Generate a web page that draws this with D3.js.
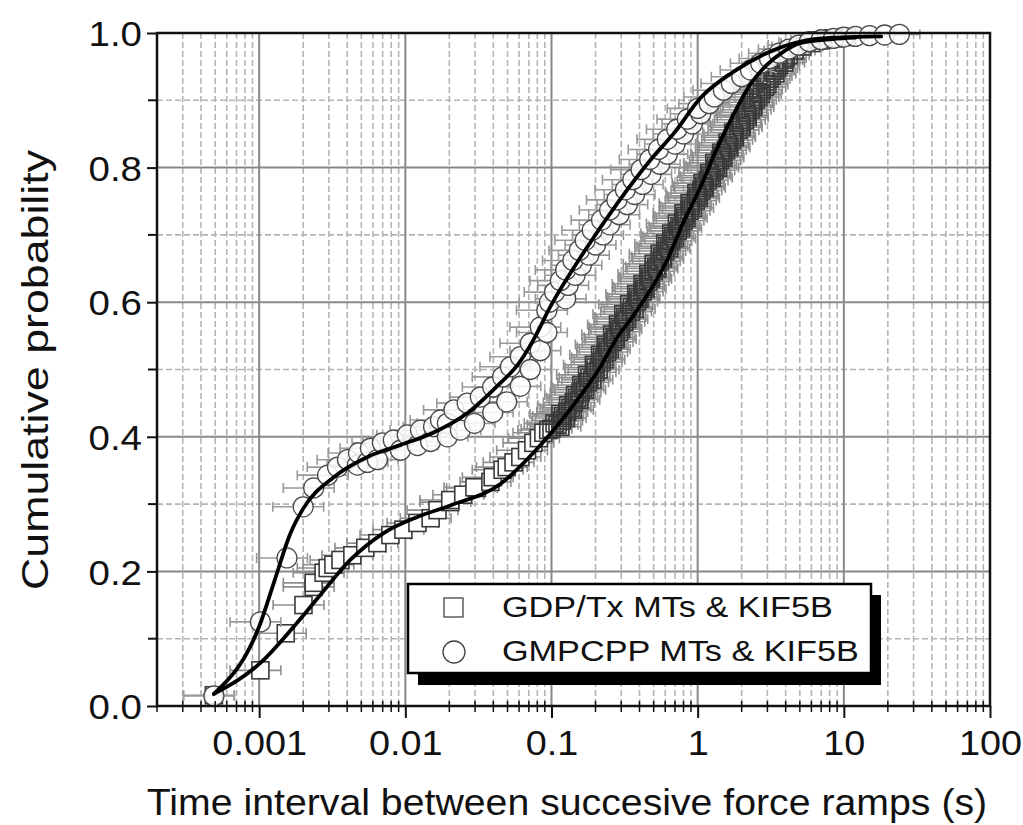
<!DOCTYPE html>
<html>
<head>
<meta charset="utf-8">
<script src="https://cdn.jsdelivr.net/npm/d3@7"></script>
<style>
  html, body { margin: 0; padding: 0; background: #fff; }
  svg { display: block; }
  text { font-family: "Liberation Sans", Arial, sans-serif; fill: #111; }
</style>
</head>
<body>
<svg id="chart" width="1023" height="825"></svg>
<script>
// Cumulative distributions of the time between successive force ramps.
// Each point: [time interval (s), cumulative probability]
const gdpPoints = [
  [0.00049,0.016],[0.00102,0.053],[0.00152,0.108],[0.00201,0.15],[0.00236,0.177],
  [0.00236,0.183],[0.00276,0.198],[0.00294,0.205],[0.00322,0.21],[0.0036,0.217],
  [0.00434,0.224],[0.00532,0.235],[0.00644,0.242],[0.0079,0.254],[0.0097,0.262],
  [0.0121,0.272],[0.0149,0.279],[0.0166,0.291],[0.0203,0.303],[0.0203,0.306],
  [0.0249,0.314],[0.0297,0.325],[0.0309,0.324],[0.0382,0.333],[0.0396,0.34],
  [0.0463,0.351],[0.0494,0.355],[0.055,0.362],[0.0612,0.37],[0.068,0.38],[0.0752,0.391],
  [0.082,0.398],[0.088,0.406],
  [0.095,0.41],[0.115,0.415],[0.105,0.42],[0.125,0.428],[0.115,0.434],[0.14,0.44],
  [0.13,0.447],[0.155,0.455],[0.145,0.462],[0.17,0.47],[0.16,0.477],[0.19,0.485],
  [0.175,0.492],[0.21,0.50],[0.195,0.507],[0.23,0.515],[0.215,0.522],[0.25,0.53],
  [0.235,0.537],[0.275,0.545],[0.26,0.552],[0.3,0.56],[0.285,0.567],[0.33,0.575],
  [0.31,0.582],[0.37,0.59],[0.34,0.597],[0.4,0.605],[0.38,0.612],[0.44,0.62],
  [0.42,0.627],[0.48,0.635],[0.46,0.642],[0.53,0.65],[0.5,0.657],[0.58,0.665],
  [0.55,0.672],[0.64,0.68],[0.6,0.687],[0.7,0.695],[0.66,0.702],[0.77,0.71],
  [0.72,0.717],[0.84,0.725],[0.8,0.732],[0.93,0.74],[0.88,0.747],[1.02,0.755],
  [0.98,0.762],[1.12,0.77],[1.08,0.777],[1.25,0.785],[1.2,0.792],[1.38,0.80],
  [1.3,0.807],[1.5,0.815],[1.45,0.822],[1.65,0.83],[1.6,0.837],[1.8,0.845],
  [1.75,0.852],[2.0,0.86],[1.95,0.867],[2.2,0.875],[2.15,0.882],[2.4,0.89],
  [2.35,0.897],[2.6,0.905],[2.6,0.912],[2.9,0.92],[2.9,0.928],[3.2,0.936],
  [3.3,0.944],[3.6,0.952],[3.8,0.96],[4.2,0.967],[4.6,0.974],[5.2,0.98],
  [6,0.985],[7,0.989],[8.5,0.992],[10.5,0.994],
  [0.1,0.412],[0.11,0.418],[0.118,0.424],[0.12,0.431],[0.128,0.437],[0.135,0.443],
  [0.142,0.451],[0.15,0.458],[0.158,0.466],[0.165,0.473],[0.178,0.481],[0.182,0.488],
  [0.2,0.496],[0.2,0.503],[0.22,0.511],[0.222,0.518],[0.24,0.526],[0.242,0.533],
  [0.262,0.541],[0.27,0.548],[0.29,0.556],[0.292,0.563],[0.315,0.571],[0.32,0.578],
  [0.35,0.586],[0.355,0.593],[0.385,0.601],[0.39,0.608],[0.42,0.616],[0.43,0.623],
  [0.46,0.631],[0.47,0.638],[0.5,0.646],[0.52,0.653],[0.55,0.661],[0.57,0.668],
  [0.6,0.676],[0.62,0.683],[0.66,0.691],[0.68,0.698],[0.73,0.706],[0.75,0.713],
  [0.8,0.721],[0.82,0.728],[0.88,0.736],[0.9,0.743],[0.97,0.751],[1.0,0.758],
  [1.06,0.766],[1.1,0.773],[1.17,0.781],[1.22,0.788],[1.3,0.796],[1.34,0.803],
  [1.42,0.811],[1.48,0.818],[1.56,0.826],[1.62,0.833],[1.72,0.841],[1.78,0.848],
  [1.9,0.856],[1.98,0.863],[2.1,0.871],[2.18,0.878],[2.3,0.886],[2.4,0.893],
  [2.5,0.901],[2.7,0.909],[2.75,0.916],[3.0,0.924],[3.1,0.932],[3.4,0.94],
  [3.5,0.948],[3.9,0.956],[4.0,0.963]
];

const gmpPoints = [
  [0.00049,0.015],[0.00102,0.125],[0.00155,0.22],[0.0020,0.296],[0.00236,0.324],
  [0.00294,0.343],[0.00344,0.355],[0.00402,0.366],[0.0047,0.358],[0.00478,0.376],
  [0.00551,0.362],[0.00577,0.383],[0.00644,0.366],[0.00697,0.391],[0.00828,0.395],
  [0.00926,0.38],[0.0103,0.403],[0.0121,0.387],[0.0127,0.41],[0.0149,0.393],
  [0.0156,0.415],[0.0174,0.425],[0.0194,0.42],[0.0194,0.4],[0.0215,0.44],
  [0.0238,0.41],[0.0265,0.45],[0.0297,0.42],[0.0326,0.459],
  [0.0396,0.474],[0.0396,0.436],[0.0463,0.489],[0.0494,0.452],[0.0523,0.504],
  [0.0612,0.519],[0.0612,0.475],[0.0716,0.539],[0.0716,0.5],[0.0838,0.563],
  [0.0838,0.528],[0.093,0.588],[0.093,0.555],
  [0.097,0.60],[0.125,0.605],[0.105,0.615],[0.13,0.625],[0.115,0.632],[0.145,0.64],
  [0.125,0.648],[0.16,0.655],[0.14,0.662],[0.18,0.67],[0.155,0.677],[0.2,0.685],
  [0.17,0.692],[0.225,0.70],[0.19,0.707],[0.25,0.715],[0.22,0.722],[0.29,0.73],
  [0.25,0.737],[0.33,0.745],[0.28,0.752],[0.37,0.76],[0.32,0.767],[0.42,0.775],
  [0.36,0.782],[0.48,0.79],[0.41,0.797],[0.55,0.805],[0.47,0.812],[0.62,0.82],
  [0.54,0.827],[0.7,0.835],[0.62,0.842],[0.8,0.85],[0.72,0.857],[0.92,0.865],
  [0.85,0.872],[1.05,0.88],[1.0,0.888],[1.2,0.895],[1.3,0.905],[1.5,0.915],
  [1.7,0.925],[2.0,0.935],[2.3,0.945],[2.7,0.955],[3.1,0.962],[3.6,0.97],
  [4.2,0.976],[4.9,0.982],[5.8,0.987],[7,0.99],[8.5,0.992],[10,0.994],
  [12,0.995],[15,0.996],[19,0.997],[24,0.998]
];

// Fitted curves: [time interval (s), cumulative probability]
const gdpFit = [
  [0.00049,0.018],[0.00102,0.064],[0.00171,0.117],[0.00251,0.16],[0.0042,0.217],
  [0.0071,0.257],[0.0121,0.281],[0.0203,0.298],[0.0447,0.33],[0.075,0.376],
  [0.128,0.435],[0.216,0.504],[0.282,0.548],[0.363,0.58],[0.62,0.663],
  [0.80,0.719],[1.04,0.77],[1.36,0.829],[1.75,0.878],[2.28,0.923],[2.95,0.952],
  [3.85,0.972],[5.0,0.985],[8.4,0.991],[12,0.993]
];

const gmpFit = [
  [0.00049,0.018],[0.00102,0.123],[0.00126,0.183],[0.00164,0.257],[0.00201,0.294],
  [0.00324,0.34],[0.0055,0.37],[0.0093,0.388],[0.0155,0.406],[0.0265,0.435],
  [0.0447,0.48],[0.0583,0.506],[0.0752,0.544],[0.098,0.593],[0.165,0.673],
  [0.282,0.747],[0.474,0.811],[0.70,0.853],[1.04,0.903],[1.75,0.942],
  [2.95,0.970],[4.98,0.987],[8.4,0.993],[18,0.995]
];

// Relative half-width of the horizontal error bars
const gdpErrFrac = 0.38;
const gmpErrFrac = 0.38;

const xTickValues = [0.001, 0.01, 0.1, 1, 10, 100];
const xTickLabels = ["0.001", "0.01", "0.1", "1", "10", "100"];
const yTickValues = [0, 0.2, 0.4, 0.6, 0.8, 1.0];
const yTickLabels = ["0.0", "0.2", "0.4", "0.6", "0.8", "1.0"];
const legendLabels = ["GDP/Tx MTs & KIF5B", "GMPCPP MTs & KIF5B"];
const xTitle = "Time interval between succesive force ramps (s)";
const yTitle = "Cumulative probability";

const svg = d3.select("#chart");
const L = 157, R = 990, T = 33, B = 706;

const x = d3.scaleLog().domain([0.0002, 100]).range([L, R]);
const y = d3.scaleLinear().domain([0, 1]).range([B, T]);

// widen glyphs horizontally by a given factor
function widen(sel, k) {
  sel.each(function () {
    const w = this.getComputedTextLength();
    d3.select(this).attr("textLength", w * k).attr("lengthAdjust", "spacingAndGlyphs");
  });
}

// minor positions on the log axis
const xMinor = [];
[0.0001, 0.001, 0.01, 0.1, 1, 10].forEach(d => {
  for (let k = 2; k <= 9; k++) {
    const v = d * k;
    if (v >= 0.0002 && v <= 100) xMinor.push(v);
  }
});
const yMinor = [0.1, 0.3, 0.5, 0.7, 0.9];

// ---- grid ----
const grid = svg.append("g");
grid.selectAll(".gxm").data(xMinor).join("line")
  .attr("x1", d => x(d)).attr("x2", d => x(d)).attr("y1", T).attr("y2", B)
  .attr("stroke", "#b4b4b4").attr("stroke-width", 1.6).attr("stroke-dasharray", "6,3");
grid.selectAll(".gym").data(yMinor).join("line")
  .attr("x1", L).attr("x2", R).attr("y1", d => y(d)).attr("y2", d => y(d))
  .attr("stroke", "#b4b4b4").attr("stroke-width", 1.6).attr("stroke-dasharray", "6,3");
grid.selectAll(".gxM").data(xTickValues.slice(0, 5)).join("line")
  .attr("x1", d => x(d)).attr("x2", d => x(d)).attr("y1", T).attr("y2", B)
  .attr("stroke", "#888").attr("stroke-width", 2);
grid.selectAll(".gyM").data(yTickValues.slice(1, 5)).join("line")
  .attr("x1", L).attr("x2", R).attr("y1", d => y(d)).attr("y2", d => y(d))
  .attr("stroke", "#888").attr("stroke-width", 2);

// ---- data ----
function drawErrorBars(g, pts, frac, color) {
  const cap = 5;
  g.selectAll(null).data(pts).join("path")
    .attr("d", d => {
      const x0 = x(d[0] * (1 - frac)), x1 = x(d[0] * (1 + frac)), yy = y(d[1]);
      return `M${x0},${yy}H${x1}M${x0},${yy - cap}V${yy + cap}M${x1},${yy - cap}V${yy + cap}`;
    })
    .attr("fill", "none").attr("stroke", color).attr("stroke-width", 1.6);
}

const gdpSorted = gdpPoints.slice().sort((a, b) => a[1] - b[1]);
const gSq = svg.append("g");
drawErrorBars(gSq, gdpSorted, gdpErrFrac, "#8f8f8f");
const sq = 17;
gSq.selectAll("rect").data(gdpSorted).join("rect")
  .attr("x", d => x(d[0]) - sq / 2).attr("y", d => y(d[1]) - sq / 2)
  .attr("width", sq).attr("height", sq)
  .attr("fill", "#fff").attr("fill-opacity", d => d[0] > 0.09 ? 0 : 1)
  .attr("stroke", "#3a3a3a").attr("stroke-width", 1.6);

const gCi = svg.append("g");
drawErrorBars(gCi, gmpPoints, gmpErrFrac, "#9a9a9a");
gCi.selectAll("circle").data(gmpPoints).join("circle")
  .attr("cx", d => x(d[0])).attr("cy", d => y(d[1])).attr("r", 10)
  .attr("fill", "#fff").attr("fill-opacity", 0.85)
  .attr("stroke", "#4a4a4a").attr("stroke-width", 1.3);

// ---- fits ----
const line = d3.line().x(d => x(d[0])).y(d => y(d[1])).curve(d3.curveMonotoneX);
[gdpFit, gmpFit].forEach(f => {
  svg.append("path").attr("d", line(f)).attr("fill", "none")
    .attr("stroke", "#000").attr("stroke-width", 3.8).attr("stroke-linecap", "round");
});

// ---- frame ----
svg.append("rect").attr("x", L).attr("y", T).attr("width", R - L).attr("height", B - T)
  .attr("fill", "none").attr("stroke", "#111").attr("stroke-width", 2.5);

// ---- axes ----
const yAxis = d3.axisLeft(y).tickValues(yTickValues)
  .tickFormat((d, i) => yTickLabels[i]).tickSize(10).tickPadding(5);
const gy = svg.append("g").attr("transform", `translate(${L},0)`).call(yAxis);
gy.select(".domain").remove();
gy.selectAll("line").attr("stroke", "#111").attr("stroke-width", 2);
gy.selectAll("text").attr("font-size", 35).attr("dy", "0.36em").call(widen, 1.1);
gy.selectAll(".minor").data(yMinor).join("line").attr("class", "minor")
  .attr("x1", -9).attr("x2", 0).attr("y1", d => y(d)).attr("y2", d => y(d))
  .attr("stroke", "#111").attr("stroke-width", 2);

const xAxis = d3.axisBottom(x).tickValues(xTickValues)
  .tickFormat((d, i) => xTickLabels[i]).tickSize(12).tickPadding(12);
const gx = svg.append("g").attr("transform", `translate(0,${B})`).call(xAxis);
gx.select(".domain").remove();
gx.selectAll("line").attr("stroke", "#111").attr("stroke-width", 2);
gx.selectAll("text").attr("font-size", 35).call(widen, 1.08);
svg.append("g").selectAll("line").data(xMinor).join("line")
  .attr("x1", d => x(d)).attr("x2", d => x(d)).attr("y1", B - 5).attr("y2", B + 6)
  .attr("stroke", "#111").attr("stroke-width", 1.5);

// ---- titles ----
svg.append("text").attr("x", 567).attr("y", 815).attr("text-anchor", "middle")
  .attr("font-size", 36).text(xTitle).call(widen, 1.09);
svg.append("text").attr("transform", `translate(48,370) rotate(-90)`)
  .attr("text-anchor", "middle").attr("font-size", 36).text(yTitle)
  .attr("textLength", 440).attr("lengthAdjust", "spacingAndGlyphs");

// ---- legend ----
const lg = svg.append("g");
lg.append("rect").attr("x", 418).attr("y", 595).attr("width", 463).attr("height", 90).attr("fill", "#000");
lg.append("rect").attr("x", 408).attr("y", 584).attr("width", 463).attr("height", 89)
  .attr("fill", "#fff").attr("stroke", "#000").attr("stroke-width", 2.5);
lg.append("rect").attr("x", 444).attr("y", 598).attr("width", 19).attr("height", 19)
  .attr("fill", "#fff").attr("stroke", "#444").attr("stroke-width", 1.3);
lg.append("circle").attr("cx", 454).attr("cy", 652).attr("r", 11)
  .attr("fill", "#fff").attr("stroke", "#444").attr("stroke-width", 1.3);
legendLabels.forEach((t, i) => {
  lg.append("text").attr("x", 502).attr("y", 617 + i * 44).attr("font-size", 29).text(t)
    .call(widen, 1.18);
});
</script>
</body>
</html>
